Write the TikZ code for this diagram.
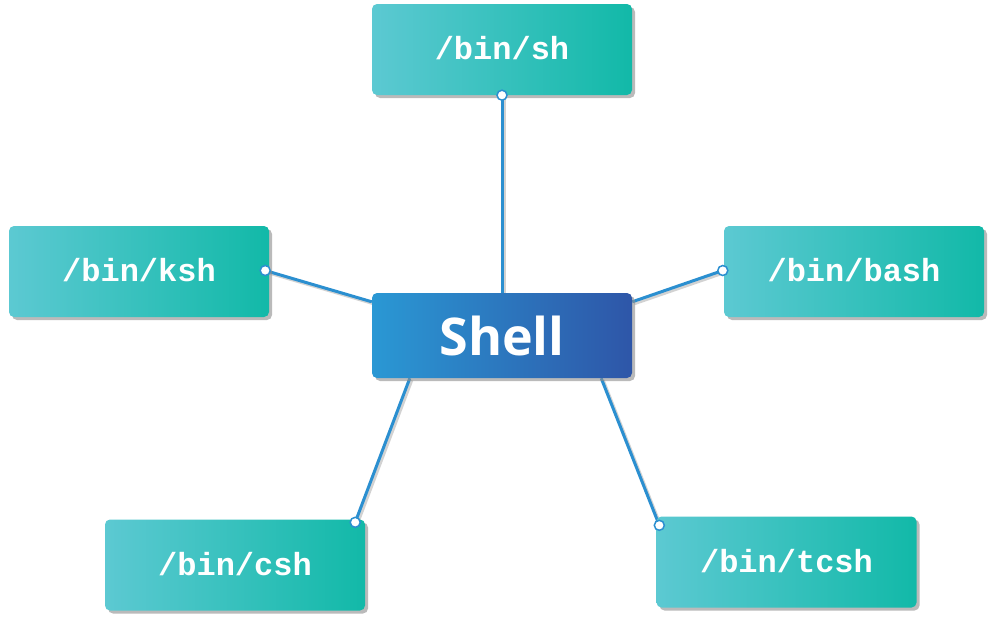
\documentclass[tikz,border=0pt]{standalone}
\usepackage{fontspec}
\newfontfamily\monofont{Liberation Mono}
\newfontfamily\shellfont{Open Sans}
\usetikzlibrary{shadows}
\pgfdeclarelayer{background}
\pgfsetlayers{background,main}
\definecolor{leafL}{RGB}{92,201,210}
\definecolor{leafR}{RGB}{18,185,168}
\definecolor{hubL}{RGB}{42,152,212}
\definecolor{hubR}{RGB}{46,86,168}
\definecolor{linkc}{RGB}{43,143,208}
\newcommand{\leaftext}[1]{\raisebox{3pt}{#1}}
\tikzset{
  leaf/.style={rectangle, rounded corners=5pt, minimum width=260pt, minimum height=91pt,
    left color=leafL, right color=leafR, text=white,
    font=\monofont\bfseries\fontsize{32}{32}\selectfont,
    drop shadow={shadow xshift=3pt, shadow yshift=-3pt, fill=black!45, opacity=0.6}},
  hub/.style={rectangle, rounded corners=5pt, minimum width=260pt, minimum height=85pt,
    left color=hubL, right color=hubR, text=white,
    font=\shellfont\bfseries\fontsize{52}{52}\selectfont,
    drop shadow={shadow xshift=3pt, shadow yshift=-3pt, fill=black!45, opacity=0.6}},
  link/.style={draw=linkc, line width=3pt},
  linkshadow/.style={draw=black!35, line width=3pt, opacity=0.5},
  endpt/.style={circle, draw=linkc, fill=white, line width=1.5pt, inner sep=0pt, minimum size=10pt}
}
\begin{document}
\begin{tikzpicture}[x=1pt,y=-1pt]
\useasboundingbox (0,0) rectangle (1000,622);
\node[hub]  (shell) at (502,335.5) {Shell};
\node[leaf] (sh)    at (502,49.5)  {\leaftext{/bin/sh}};
\node[leaf] (ksh)   at (139,271.5) {\leaftext{/bin/ksh}};
\node[leaf] (bash)  at (854,271.5) {\leaftext{/bin/bash}};
\node[leaf] (csh)   at (235,565)   {\leaftext{/bin/csh}};
\node[leaf] (tcsh)  at (786.5,562) {\leaftext{/bin/tcsh}};
% end points
\coordinate (eSh)   at (sh.south);
\coordinate (eKsh)  at ([xshift=-4pt,yshift=1pt]ksh.east);
\coordinate (eBash) at ([xshift=-1pt,yshift=1pt]bash.west);
\coordinate (eCsh)  at ([xshift=-10pt,yshift=-3pt]csh.north east);
\coordinate (eTcsh) at ([xshift=3pt,yshift=-9pt]tcsh.north west);
\coordinate (hTop)  at (shell.north);
\coordinate (hL)    at ([yshift=-9pt]shell.north west);
\coordinate (hR)    at ([yshift=-9pt]shell.north east);
\coordinate (hBL)   at ([xshift=38pt]shell.south west);
\coordinate (hBR)   at ([xshift=-31pt]shell.south east);
\begin{pgfonlayer}{background}
  \foreach \a/\b in {eSh/hTop, eKsh/hL, eBash/hR, eCsh/hBL, eTcsh/hBR}{
    \draw[linkshadow] ([xshift=2pt,yshift=-2pt]\a) -- ([xshift=2pt,yshift=-2pt]\b);
    \draw[link] (\a) -- (\b);
  }
\end{pgfonlayer}
\foreach \a in {eSh, eKsh, eBash, eCsh, eTcsh}{
  \node[endpt] (c\a) at (\a) {};
}
\end{tikzpicture}
\end{document}
